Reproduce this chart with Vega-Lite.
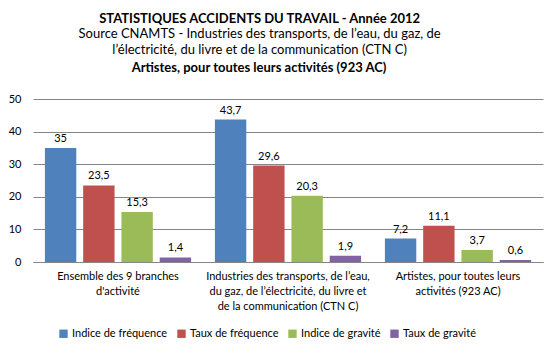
{
  "$schema": "https://vega.github.io/schema/vega-lite/v6.json",
  "background": "white",
  "padding": {"left": 8, "top": 12, "right": 14, "bottom": 5},
  "title": {
    "text": "STATISTIQUES ACCIDENTS DU TRAVAIL - Année 2012",
    "subtitle": ["Source CNAMTS - Industries des transports, de l’eau, du gaz, de", "l’électricité, du livre et de la communication (CTN C)"],
    "font": "Lato", "fontSize": 13, "fontWeight": "bold", "color": "black",
    "subtitleFont": "Lato", "subtitleFontSize": 13, "subtitleColor": "black", "subtitleLineHeight": 16.5,
    "subtitlePadding": 2, "anchor": "middle", "offset": 5, "dx": -16
  },
  "vconcat": [
    {
      "title": {"text": "Artistes, pour toutes leurs activités (923 AC)", "font": "Lato", "fontSize": 13, "fontWeight": "bold", "color": "black", "anchor": "middle", "dx": -29, "offset": 18},
      "width": 510,
      "height": 163,
      "data": {
        "values": [
          {"group": "Ensemble des 9 branches d'activité", "series": "Indice de fréquence", "value": 35},
          {"group": "Ensemble des 9 branches d'activité", "series": "Taux de fréquence", "value": 23.5},
          {"group": "Ensemble des 9 branches d'activité", "series": "Indice de gravité", "value": 15.3},
          {"group": "Ensemble des 9 branches d'activité", "series": "Taux de gravité", "value": 1.4},
          {"group": "Industries des transports, de l’eau, du gaz, de l’électricité, du livre et de la communication (CTN C)", "series": "Indice de fréquence", "value": 43.7},
          {"group": "Industries des transports, de l’eau, du gaz, de l’électricité, du livre et de la communication (CTN C)", "series": "Taux de fréquence", "value": 29.6},
          {"group": "Industries des transports, de l’eau, du gaz, de l’électricité, du livre et de la communication (CTN C)", "series": "Indice de gravité", "value": 20.3},
          {"group": "Industries des transports, de l’eau, du gaz, de l’électricité, du livre et de la communication (CTN C)", "series": "Taux de gravité", "value": 1.9},
          {"group": "Artistes, pour toutes leurs activités (923 AC)", "series": "Indice de fréquence", "value": 7.2},
          {"group": "Artistes, pour toutes leurs activités (923 AC)", "series": "Taux de fréquence", "value": 11.1},
          {"group": "Artistes, pour toutes leurs activités (923 AC)", "series": "Indice de gravité", "value": 3.7},
          {"group": "Artistes, pour toutes leurs activités (923 AC)", "series": "Taux de gravité", "value": 0.6}
        ]
      },
      "encoding": {
        "x": {
          "field": "group", "type": "nominal", "sort": null,
          "scale": {"paddingInner": 0.14, "paddingOuter": 0.07},
          "axis": {
            "title": null, "labelAngle": 0, "ticks": false, "domain": true, "domainColor": "#868686",
            "labelFont": "Lato", "labelFontSize": 11, "labelColor": "black", "labelLineHeight": 15, "labelPadding": 8,
            "labelExpr": "indexof(datum.value, 'Ensemble') == 0 ? ['Ensemble des 9 branches', \"d'activité\"] : indexof(datum.value, 'Industries') == 0 ? ['Industries des transports, de l’eau,', 'du gaz, de l’électricité, du livre et', 'de la communication (CTN C)'] : ['Artistes, pour toutes leurs', 'activités (923 AC)']"
          }
        },
        "xOffset": {
          "field": "series", "type": "nominal",
          "sort": ["Indice de fréquence", "Taux de fréquence", "Indice de gravité", "Taux de gravité"],
          "scale": {"paddingInner": 0.18, "paddingOuter": 0}
        },
        "y": {
          "field": "value", "type": "quantitative",
          "scale": {"domain": [0, 50], "nice": false},
          "axis": {
            "title": null, "values": [0, 10, 20, 30, 40, 50], "grid": true, "gridColor": "#868686", "gridWidth": 1,
            "domain": false, "ticks": false, "labelFont": "Lato", "labelFontSize": 11, "labelColor": "black", "labelPadding": 12
          }
        }
      },
      "layer": [
        {
          "mark": {"type": "bar"},
          "encoding": {
            "color": {
              "field": "series", "type": "nominal",
              "sort": ["Indice de fréquence", "Taux de fréquence", "Indice de gravité", "Taux de gravité"],
              "scale": {"domain": ["Indice de fréquence", "Taux de fréquence", "Indice de gravité", "Taux de gravité"], "range": ["#4F81BD", "#C0504D", "#9BBB59", "#8064A2"]},
              "legend": {
                "title": null, "orient": "bottom", "direction": "horizontal", "symbolType": "square", "symbolSize": 70,
                "symbolStrokeWidth": 0, "labelFont": "Lato", "labelFontSize": 11, "labelColor": "black",
                "columnPadding": 8, "labelOffset": 3, "offset": -8, "padding": 25
              }
            }
          }
        },
        {
          "mark": {"type": "text", "dy": -9, "font": "Lato", "fontSize": 11, "color": "black"},
          "encoding": {
            "text": {"field": "value", "type": "quantitative", "format": ".1~f"}
          }
        }
      ]
    }
  ],
  "config": {
    "locale": {"number": {"decimal": ",", "thousands": " ", "grouping": [3], "currency": ["", " €"]}},
    "view": {"stroke": null},
    "axis": {"gridOpacity": 1}
  }
}
